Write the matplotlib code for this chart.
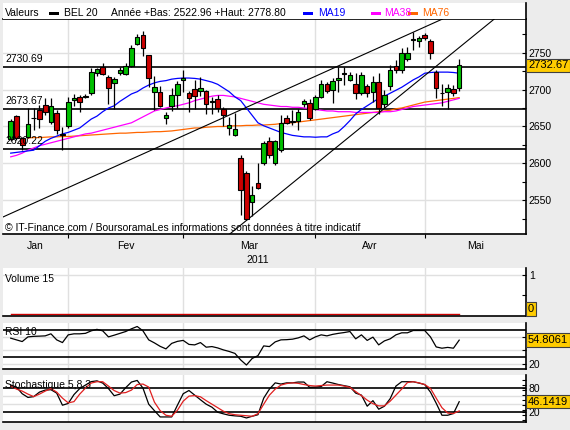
import numpy as np
import matplotlib
matplotlib.use('Agg')
import matplotlib.pyplot as plt
import matplotlib.transforms as mtransforms
from matplotlib.patches import Rectangle
from matplotlib.lines import Line2D

plt.rcParams['font.family'] = ['Liberation Sans', 'DejaVu Sans']

# BEL 20 daily candles, 18 Jan -> 10 May 2011
opens = [2633, 2664, 2634, 2636, 2661, 2672, 2679, 2656, 2668, 2639,
         2651, 2686, 2690, 2690, 2695, 2722, 2730, 2717, 2709, 2722,
         2721, 2732, 2762, 2774, 2747, 2696, 2697, 2661, 2678, 2692,
         2713, 2695, 2701, 2698, 2698, 2683, 2687, 2674, 2648, 2638,
         2607, 2587, 2548, 2574, 2601, 2630, 2600, 2618, 2661, 2656,
         2657, 2680, 2682, 2674, 2690, 2708, 2699, 2713, 2721, 2713,
         2707, 2695, 2705, 2697, 2710, 2680, 2705, 2732, 2726, 2741,
         2767, 2765, 2774, 2766, 2724, 2695, 2696, 2701, 2702]
highs = [2660, 2666, 2636, 2675, 2675, 2679, 2689, 2688, 2672, 2649,
         2690, 2694, 2693, 2694, 2729, 2729, 2736, 2719, 2717, 2730,
         2736, 2760, 2775, 2778.8, 2747, 2718, 2705, 2670, 2702, 2711,
         2726, 2698, 2713, 2717, 2700, 2690, 2693, 2676, 2663, 2668,
         2612, 2590, 2570, 2600, 2630, 2636, 2632, 2665, 2666, 2672,
         2674, 2687, 2687, 2693, 2713, 2710, 2715, 2731, 2731, 2724,
         2722, 2724, 2708, 2718, 2722, 2700, 2733, 2740, 2756, 2758,
         2778, 2772, 2777, 2768, 2726, 2707, 2707, 2706, 2741]
lows = [2630, 2632, 2618, 2634, 2645, 2648, 2665, 2654, 2640, 2618,
        2648, 2678, 2670, 2688, 2692, 2718, 2719, 2680, 2674, 2720,
        2719, 2731, 2760, 2745, 2704, 2672, 2676, 2653, 2671, 2675,
        2697, 2670, 2674, 2691, 2667, 2667, 2669, 2651, 2638, 2637,
        2530, 2522.96, 2529, 2566, 2598, 2608, 2598, 2616, 2654, 2652,
        2645, 2677, 2659, 2672, 2688, 2695, 2682, 2697, 2706, 2711,
        2687, 2692, 2690, 2683, 2667, 2675, 2700, 2722, 2722, 2738,
        2753, 2757, 2767, 2741, 2689, 2678, 2674, 2691, 2698]
closes = [2657, 2635, 2625, 2653, 2662, 2660, 2669, 2678, 2645, 2640,
          2683, 2689, 2683, 2691, 2724, 2728, 2721, 2702, 2714, 2726,
          2732, 2756, 2771, 2756, 2715, 2703, 2678, 2665, 2692, 2707,
          2715, 2689, 2691, 2702, 2680, 2684, 2675, 2665, 2652, 2646,
          2564, 2525, 2557, 2567, 2628, 2611, 2630, 2655, 2655, 2657,
          2670, 2684, 2662, 2690, 2707, 2698, 2712, 2715, 2722, 2720,
          2695, 2720, 2695, 2710, 2675, 2693, 2727, 2727, 2750, 2750,
          2768, 2769, 2769, 2750, 2702, 2695.5, 2702, 2695, 2732.67]

# moving averages as drawn
ma19 = [2614, 2615, 2616, 2617, 2618, 2624, 2630, 2634, 2637, 2640,
        2642, 2645, 2648, 2654, 2660, 2664, 2670, 2675, 2678, 2684,
        2689, 2694, 2697, 2702, 2706, 2709, 2711, 2712, 2714, 2715,
        2715.5, 2715.5, 2715, 2714, 2712, 2710, 2707, 2702, 2697, 2690,
        2685, 2675, 2665, 2655, 2651, 2648, 2645, 2642, 2640, 2638,
        2637, 2636, 2636, 2635.5, 2636, 2636, 2640, 2643, 2650, 2658,
        2667, 2673, 2678, 2683, 2688, 2691, 2695, 2699, 2703, 2708,
        2713, 2717, 2722, 2723, 2723.5, 2723.5, 2723.5, 2723, 2722]
ma38 = [2609, 2611, 2614, 2618, 2621, 2624, 2626, 2628, 2630, 2632,
        2634, 2636, 2638, 2640, 2641, 2643, 2645, 2647, 2649, 2651,
        2653, 2655, 2659, 2663, 2667, 2671, 2673, 2675, 2677, 2678,
        2680, 2682, 2685, 2687, 2689, 2691, 2692, 2692, 2691, 2690,
        2688, 2686, 2684, 2682, 2680, 2679, 2678, 2677, 2677, 2676,
        2676, 2675, 2674, 2673, 2672, 2671, 2671, 2670, 2670, 2670,
        2669, 2669, 2669, 2669, 2669, 2670, 2670, 2671, 2673, 2675,
        2677, 2678, 2679, 2680, 2681, 2682, 2684, 2686, 2688]
ma76 = [np.nan, np.nan, np.nan, 2634.5, 2635, 2635, 2635.5, 2636, 2636, 2636.5,
        2636.5, 2637, 2637.5, 2638, 2638.5, 2639, 2639.5, 2640, 2640.5, 2641,
        2641, 2641.5, 2642, 2642, 2642.5, 2643, 2643, 2643.5, 2644, 2645,
        2646, 2647, 2648, 2648, 2649, 2649.5, 2650, 2650, 2650.5, 2651,
        2651, 2651.5, 2651.5, 2652, 2652, 2652.5, 2653, 2654, 2654.5, 2655,
        2656, 2657, 2658, 2659, 2660, 2661, 2662, 2663, 2664, 2665,
        2666, 2667, 2668, 2669, 2670, 2671, 2672, 2674, 2675, 2677,
        2679, 2681, 2683, 2684, 2685, 2686, 2687, 2688, 2689]

volume = [0] * 79

rsi10 = [57.7, 55.2, 52.7, 59.6, 60.4, 60.7, 61.1, 64.1, 55.2, 51.2,
         62.6, 64.1, 64.1, 64.8, 68.5, 70.7, 68.5, 59.6, 62.1, 64.8,
         67.5, 71.5, 74.9, 68.5, 55.2, 50.7, 45.6, 41.9, 50.0, 53.0,
         54.4, 48.5, 47.8, 51.2, 44.4, 45.3, 43.3, 40.4, 38.1, 35.2,
         25.6, 18.1, 27.8, 31.9, 46.3, 45.3, 52.2, 55.2, 55.5, 56.2,
         58.1, 61.1, 55.2, 59.6, 62.6, 61.1, 63.3, 64.8, 66.0, 67.5,
         56.7, 62.6, 54.4, 59.2, 47.8, 53.7, 56.7, 62.6, 65.6, 65.6,
         69.0, 69.0, 69.0, 59.6, 44.8, 42.9, 44.1, 42.9, 54.8061]

stoch_k = [87.5, 82.5, 66.0, 56.8, 58.8, 70.0, 75.0, 76.0, 67.5, 37.5,
           41.8, 63.8, 78.8, 87.5, 96.0, 98.0, 92.5, 78.8, 61.0, 65.0,
           81.0, 95.0, 99.0, 80.0, 40.0, 23.8, 8.3, 8.3, 8.3, 37.5,
           66.0, 74.0, 62.5, 51.0, 40.0, 32.5, 20.0, 16.0, 12.5, 11.0,
           10.0, 5.8, 10.0, 13.8, 55.0, 77.5, 93.0, 90.0, 93.0, 93.0,
           95.0, 95.0, 81.8, 82.5, 83.8, 95.8, 92.5, 88.8, 86.0, 83.3,
           67.5, 62.5, 35.0, 48.8, 27.5, 35.0, 53.8, 85.0, 95.8, 95.8,
           95.8, 92.5, 88.8, 70.0, 42.5, 12.5, 12.5, 16.8, 46.1419]
stoch_d = [85.0, 77.5, 72.5, 65.0, 58.8, 65.0, 72.5, 78.8, 70.0, 55.0,
           43.3, 46.3, 65.0, 80.0, 92.5, 95.8, 95.8, 85.0, 73.8, 67.5,
           68.8, 75.0, 88.8, 90.0, 82.5, 45.0, 23.8, 12.5, 10.0, 25.0,
           47.5, 60.0, 61.3, 58.3, 48.8, 40.0, 31.3, 22.5, 16.3, 13.8,
           12.5, 11.3, 10.0, 16.3, 40.0, 62.5, 77.5, 87.5, 91.3, 93.0,
           91.8, 88.8, 86.3, 85.0, 86.3, 87.5, 87.5, 87.5, 85.0, 81.8,
           71.3, 61.3, 50.0, 41.3, 35.8, 35.8, 47.5, 62.5, 77.5, 93.8,
           95.8, 93.0, 88.8, 79.3, 55.0, 31.3, 18.0, 16.8, 23.3]

# drawn support / resistance levels and channel lines (candle index, price)
levels = [2730.69, 2673.67, 2620.22]
trend_a = [(-1.34, 2527.7), (74.7, 2793.9)]
trend_c = [(41.0, 2523.0), (83.9, 2794.0)]

month_starts = [10, 30, 53, 72]
month_names = ['Jan', 'Fev', 'Mar', 'Avr', 'Mai']

W, H = 570, 430
x_left, x_right = -1.34, 89.62
GREEN, RED = '#00C000', '#CC0000'
GOLD = '#FFCC00'
GRID = '#E0E0E0'

fig = plt.figure(figsize=(W / 100, H / 100), dpi=100, facecolor='#ECECEC')


def box(x0, y0, x1, y1):
    # pixel box (top-left origin) -> figure fraction rect
    return [x0 / W, 1 - y1 / H, (x1 - x0) / W, (y1 - y0) / H]


def ftext(x, y, s, **kw):
    kw.setdefault('fontsize', 7.5)
    kw.setdefault('va', 'center')
    fig.text(x / W, 1 - y / H, s, **kw)


def frect(x0, y0, x1, y1, color):
    fig.patches.append(Rectangle((x0 / W, 1 - y1 / H), (x1 - x0) / W, (y1 - y0) / H,
                                 transform=fig.transFigure, facecolor=color,
                                 edgecolor='none', zorder=0))


def style_panel(ax):
    ax.set_facecolor('white')
    ax.spines['top'].set_visible(False)
    ax.spines['left'].set_visible(False)
    ax.spines['right'].set_linewidth(1.2)
    ax.spines['bottom'].set_linewidth(1.2)
    ax.yaxis.tick_right()
    ax.tick_params(axis='y', which='both', direction='in', length=3, width=0.8,
                   labelsize=7.5, pad=2)
    ax.set_xlim(x_left, x_right)
    ax.set_xticks([])
    for m in month_starts:
        ax.axvline(m, color=GRID, lw=1, zorder=0)


def value_box(ax, y, s, va='center'):
    tr = mtransforms.blended_transform_factory(ax.transAxes, ax.transData)
    ax.text(1.004, y, s, transform=tr, ha='left', va=va, fontsize=8,
            bbox=dict(boxstyle='square,pad=0.15', fc=GOLD, ec='#404040', lw=0.8),
            clip_on=False, zorder=10)


idx = np.arange(len(closes))
o, h, l, c = map(np.array, (opens, highs, lows, closes))

# ---- main price panel
ax = fig.add_axes(box(3, 19, 526, 234))
style_panel(ax)
ax.spines['top'].set_visible(True)
ax.spines['top'].set_linewidth(1.2)
ax.set_ylim(2504.7, 2795.3)
ax.set_yticks([2550, 2600, 2650, 2700, 2750])
ax.set_yticks([2525, 2575, 2625, 2675, 2725, 2775], minor=True)
ax.set_xticks(month_starts)
ax.set_xticklabels([])
ax.tick_params(axis='x', direction='out', length=3, width=0.8)
for p in [2550, 2600, 2650, 2700, 2750]:
    ax.axhline(p, color=GRID, lw=1, zorder=0)

for lv in levels:
    ax.axhline(lv, color='black', lw=1.2, zorder=2)
    ax.annotate(f'{lv:.2f}', xy=(0.004, lv), xycoords=('axes fraction', 'data'),
                xytext=(0, 2), textcoords='offset points', fontsize=7.5,
                va='bottom', ha='left', zorder=6)

ax.plot(idx, ma76, color='#FF6600', lw=0.9, zorder=2)
ax.plot(idx, ma38, color='#FF00FF', lw=0.9, zorder=2)
ax.plot(idx, ma19, color='#0000FF', lw=0.9, zorder=2)

ax.axline(trend_a[0], trend_a[1], color='black', lw=0.8, zorder=2.5)
ax.axline(trend_c[0], trend_c[1], color='black', lw=0.8, zorder=2.5)

body_col = np.where(c >= o, GREEN, RED)
ax.vlines(idx, l, h, color='black', lw=0.9, zorder=3)
ax.bar(idx, np.maximum(np.abs(c - o), 0.8), bottom=np.minimum(o, c), width=0.8,
       color=body_col, edgecolor='black', linewidth=0.8, zorder=4)

value_box(ax, c[-1], f'{c[-1]:.2f}')
ax.text(0.004, 0.028, '\u00a9 IT-Finance.com / BoursoramaLes informations sont données à titre indicatif',
        transform=ax.transAxes, fontsize=7.5, va='center', ha='left', zorder=6)

# month labels centred in each month, year underneath
bounds = [x_left] + month_starts + [x_right]
tr = mtransforms.blended_transform_factory(ax.transData, fig.transFigure)
for k, name in enumerate(month_names):
    ax.text((bounds[k] + bounds[k + 1]) / 2, 1 - 246 / H, name, transform=tr,
            ha='center', va='center', fontsize=7.5, clip_on=False)
ftext(258, 260, '2011', ha='center')

# header strip
frect(3, 3, 526, 19, 'white')
fig.lines.append(Line2D([526 / W, 526 / W], [1 - 3 / H, 1 - 19 / H],
                        transform=fig.transFigure, color='black', lw=1.2))
ftext(5, 13, 'Valeurs')
frect(49, 11.5, 59, 15, 'black')
ftext(64, 13, 'BEL 20')
ftext(111, 13, 'Année +Bas: 2522.96 +Haut: 2778.80')
frect(303, 11.5, 313, 15, '#0000FF')
ftext(318, 13, 'MA19', color='#0000FF')
frect(371, 11.5, 381, 15, '#FF00FF')
ftext(384, 13, 'MA38', color='#FF00FF')
frect(408, 11.5, 418, 15, '#FF6600')
ftext(422, 13, 'MA76', color='#FF6600')

# ---- volume panel
axv = fig.add_axes(box(3, 268, 526, 316))
style_panel(axv)
axv.set_ylim(-0.051, 1.18)
axv.axhline(1, color=GRID, lw=1, zorder=0)
axv.set_yticks([0.5, 1])
axv.set_yticklabels(['', '1'])
axv.plot(idx, volume, color=RED, lw=1)
value_box(axv, 0, '0', va='bottom')
axv.text(0.004, 0.78, 'Volume 15', transform=axv.transAxes, fontsize=7.5, va='center')

# ---- RSI panel
axr = fig.add_axes(box(3, 322.5, 526, 369.3))
style_panel(axr)
axr.set_ylim(11.8, 80.8)
for g in [20, 40, 60]:
    axr.axhline(g, color=GRID, lw=1, zorder=0)
for g in [30, 70]:
    axr.axhline(g, color='black', lw=1.2, zorder=1)
axr.set_yticks([20, 40, 60])
axr.set_yticklabels(['20', '', ''])
axr.plot(idx, rsi10, color='black', lw=0.9, zorder=3)
value_box(axr, rsi10[-1], f'{rsi10[-1]:.4f}')
axr.text(0.004, 0.8, 'RSI 10', transform=axr.transAxes, fontsize=7.5, va='center')

# ---- stochastic panel
axs = fig.add_axes(box(3, 375, 526, 422.3))
style_panel(axs)
axs.set_ylim(-5, 112.5)
for g in [40, 60]:
    axs.axhline(g, color=GRID, lw=1, zorder=0)
for g in [20, 80]:
    axs.axhline(g, color='black', lw=1.2, zorder=1)
axs.set_yticks([20, 80])
axs.set_yticks(np.arange(0, 101, 12.5), minor=True)
axs.plot(idx, stoch_k, color='black', lw=0.9, zorder=3)
axs.plot(idx, stoch_d, color='#E02020', lw=0.9, zorder=3)
value_box(axs, stoch_k[-1], f'{stoch_k[-1]:.4f}')
axs.text(0.004, 0.78, 'Stochastique 5,8,3', transform=axs.transAxes, fontsize=7.5, va='center')

fig.savefig('out.png', dpi=100, facecolor=fig.get_facecolor())
